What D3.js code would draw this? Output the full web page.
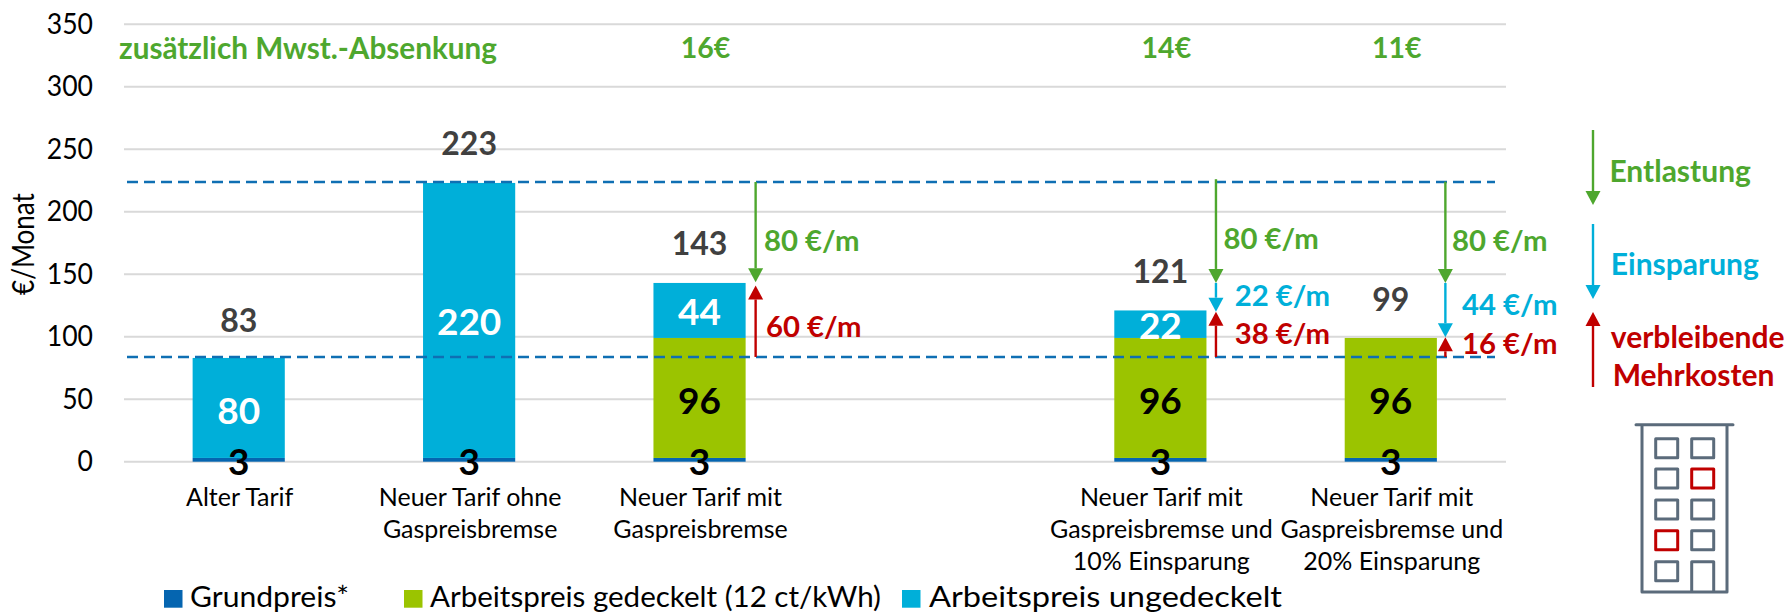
<!DOCTYPE html>
<html><head><meta charset="utf-8">
<script src="https://cdn.jsdelivr.net/npm/d3@7/dist/d3.min.js"></script>
<style>html,body{margin:0;padding:0;background:#fff}svg{display:block}text{font-family:Lato,"Noto Sans",sans-serif}</style>
</head><body><svg id="c" width="1789" height="613"></svg>
<script>
const categories=["Alter Tarif","Neuer Tarif ohne|Gaspreisbremse","Neuer Tarif mit|Gaspreisbremse","","Neuer Tarif mit|Gaspreisbremse und|10% Einsparung","Neuer Tarif mit|Gaspreisbremse und|20% Einsparung"];
const grundpreis=[3,3,3,null,3,3];
const gedeckelt=[0,0,96,null,96,96];
const ungedeckelt=[80,220,44,null,22,0];
const totals=[83,223,143,null,121,99];
const mwst=[null,null,"16€",null,"14€","11€"];
const seriesNames=["Grundpreis*","Arbeitspreis gedeckelt (12 ct/kWh)","Arbeitspreis ungedeckelt"];
const seriesColors=["#0565b0","#9bc400","#00afd9"];
const yTicks=[0,50,100,150,200,250,300,350];
const refLevels=[223.8,83.8];
const arrowGreen=[[2,223.8,143.5,"80 €/m"],[4,226,143,"80 €/m"],[5,224,143,"80 €/m"]];
const arrowBlue=[[4,143,120,"22 €/m"],[5,143,99.5,"44 €/m"]];
const arrowRed=[[2,83.8,141,"60 €/m"],[4,83.8,120,"38 €/m"],[5,83.8,99.5,"16 €/m"]];
const GREEN="#4ea72e",BLUE="#00afd9",RED="#c00000",GREY="#404040";

const svg=d3.select("#c");
const x=d3.scaleBand().domain(d3.range(categories.length)).range([123.5,1506]).paddingInner(0.6).paddingOuter(0.3);
const y=d3.scaleLinear().domain([0,350]).range([461.7,24.2]);

// grid and y axis
const yAxis=d3.axisLeft(y).tickValues(yTicks).tickSize(0).tickPadding(31);
const ga=svg.append("g").attr("transform","translate(124,0)").call(yAxis);
ga.select(".domain").remove();
ga.selectAll("text").attr("font-size",28).attr("fill","#000").attr("dy","0.33em").style("font-family","Lato")
 .attr("textLength",d=>String(d).length*15.4).attr("lengthAdjust","spacingAndGlyphs");
svg.append("g").selectAll("line").data(yTicks).join("line")
 .attr("x1",124).attr("x2",1506).attr("y1",d=>y(d)).attr("y2",d=>y(d))
 .attr("stroke","#d9d9d9").attr("stroke-width",2);
svg.append("text").attr("transform","translate(34,244) rotate(-90) scale(1,1.2)").attr("text-anchor","middle")
 .attr("font-size",26).attr("fill","#000").text("€/Monat");

// stacked bars
const rows=categories.map((c,i)=>({i,a:grundpreis[i]||0,b:gedeckelt[i]||0,c:ungedeckelt[i]||0}));
const stack=d3.stack().keys(["a","b","c"])(rows);
svg.append("g").selectAll("g").data(stack).join("g").attr("fill",(d,i)=>seriesColors[i])
 .selectAll("rect").data(d=>d.filter(p=>p[1]>p[0])).join("rect")
 .attr("x",d=>x(d.data.i)).attr("width",x.bandwidth())
 .attr("y",d=>y(d[1])).attr("height",d=>y(d[0])-y(d[1]));

// reference lines
svg.append("g").selectAll("line").data(refLevels).join("line")
 .attr("x1",127).attr("x2",1495).attr("y1",d=>y(d)).attr("y2",d=>y(d))
 .attr("stroke","#0f6fb3").attr("stroke-width",2.4).attr("stroke-dasharray","11 6");

const cx=i=>x(i)+x.bandwidth()/2;
const tx=(s,px,py,size,fill,bold,anchor="middle",len)=>{
 const t=svg.append("text").attr("x",px).attr("y",py)
 .attr("font-size",size).attr("fill",fill).attr("font-weight",bold?700:400).attr("text-anchor",anchor).text(s);
 if(len)t.attr("textLength",len).attr("lengthAdjust","spacingAndGlyphs");
 return t;
};

// data labels
const totalY=[331.5,155,255,0,282.7,310.7];
totals.forEach((t,i)=>{if(t!=null)tx(t,cx(i),totalY[i],32,GREY,true)});
grundpreis.forEach((v,i)=>{if(v!=null)tx(v,cx(i),475,37,"#000",true)});
gedeckelt.forEach((v,i)=>{if(v)tx(v,cx(i),414,37,"#000",true)});
const unY=[424,335,324.5,0,339,0];
ungedeckelt.forEach((v,i)=>{if(v)tx(v,cx(i),unY[i],37,"#fff",true)});

// category labels
categories.forEach((c,i)=>{if(!c)return;c.split("|").forEach((l,k)=>tx(l,cx(i)+1,505.5+k*32.2,25,"#000",false))});

// top green row
tx("zusätzlich Mwst.-Absenkung",119,58.6,29.7,GREEN,true,"start");
mwst.forEach((m,i)=>{if(m)tx(m,cx(i)+6,58,28.5,GREEN,true)});

// arrows
function arrow(px,from,to,col,w=2.4){
  const dir=to>from?1:-1,hl=14,hw=7.5;
  svg.append("line").attr("x1",px).attr("x2",px).attr("y1",from).attr("y2",to-dir*hl).attr("stroke",col).attr("stroke-width",w);
  svg.append("path").attr("d",d3.line()([[px-hw,to-dir*hl],[px+hw,to-dir*hl],[px,to]])+"Z").attr("fill",col);
}
const arrowX=i=>x(i)+x.bandwidth()+(i===5?8.5:i===4?9.5:10);
[...arrowGreen.map(a=>[...a,GREEN]),...arrowBlue.map(a=>[...a,BLUE]),...arrowRed.map(a=>[...a,RED])]
 .forEach(a=>arrow(arrowX(a[0]),y(a[1]),y(a[2]),a[4]));
const SZ=29.3;
tx(arrowGreen[0][3],764,251,SZ,GREEN,true,"start");
tx(arrowGreen[1][3],1223.4,249,SZ,GREEN,true,"start");
tx(arrowGreen[2][3],1452,250.7,SZ,GREEN,true,"start");
tx(arrowBlue[0][3],1234.7,306,SZ,BLUE,true,"start");
tx(arrowBlue[1][3],1462,315,SZ,BLUE,true,"start");
tx(arrowRed[0][3],766,337,SZ,RED,true,"start");
tx(arrowRed[1][3],1234.7,344,SZ,RED,true,"start");
tx(arrowRed[2][3],1462,354,SZ,RED,true,"start");

// key on the right
arrow(1593,130,205,GREEN);arrow(1593,224,299,BLUE);arrow(1593,387,312,RED);
tx("Entlastung",1609.4,181.7,30,GREEN,true,"start");
tx("Einsparung",1610.8,275,30,BLUE,true,"start");
tx("verbleibende",1610.8,348,30,RED,true,"start");
tx("Mehrkosten",1612.7,386,30,RED,true,"start");

// legend
const legX=[[164,190,159],[404,430,451],[902,929,353]];
seriesNames.forEach((n,i)=>{
 svg.append("rect").attr("x",legX[i][0]).attr("y",590).attr("width",18.5).attr("height",17.7).attr("fill",seriesColors[i]);
 tx(n,legX[i][1],606.5,28.5,"#000",false,"start",legX[i][2]);
});

// building icon
const ICON="#5b6b7b";
const ic=svg.append("g").attr("fill","none").attr("stroke",ICON).attr("stroke-width",3).attr("stroke-linejoin","round").attr("stroke-linecap","round");
ic.append("path").attr("d","M1636 424.7H1733M1642 424.7V592H1727V424.7M1691.7 592V561.7H1713.7V592");
const winCols=[1655.7,1691.7],winRows=[438.7,469,500,530.7,561.7];
const reds=new Set(["1,1","3,0"]);
winRows.forEach((ry,r)=>winCols.forEach((cxx,c)=>{
 if(r===4&&c===1)return;
 ic.append("rect").attr("x",cxx).attr("y",ry).attr("width",22).attr("height",19).attr("stroke",reds.has(r+","+c)?RED:ICON);
}));
</script></body></html>
